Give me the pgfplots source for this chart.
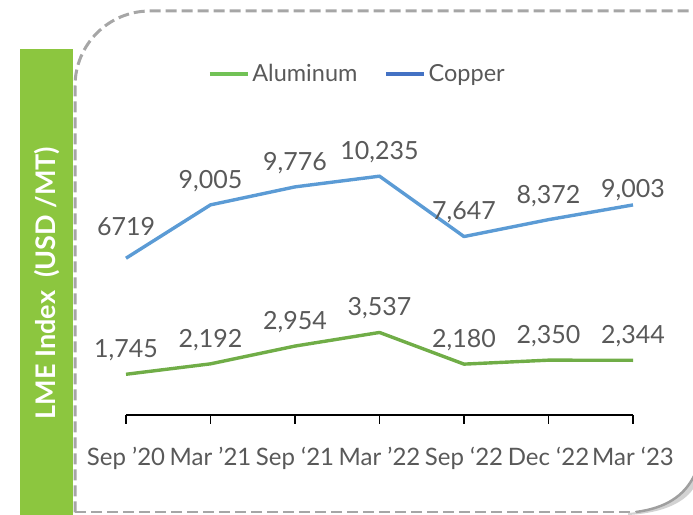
\documentclass[border=0pt]{standalone}
\usepackage{pgfplots}
\pgfplotsset{compat=1.18}
\usepackage{pgfplotstable}
\usepackage{fontspec}
\setmainfont{Lato}
\definecolor{txt}{HTML}{595959}
\definecolor{cu}{HTML}{5B9BD5}
\definecolor{culeg}{HTML}{4472C4}
\definecolor{al}{HTML}{70AD47}
\definecolor{alleg}{HTML}{72C256}
\definecolor{barg}{HTML}{8CC63F}
\definecolor{frame}{HTML}{A6A6A6}

\pgfplotstableread{
x y lab
0 6719 6719
1 9005 9,005
2 9776 9,776
3 10235 10,235
4 7647 7,647
5 8372 8,372
6 9003 9,003
}\copper
\pgfplotstableread{
x y lab
0 1745 1,745
1 2192 2,192
2 2954 2,954
3 3537 3,537
4 2180 2,180
5 2350 2,350
6 2344 2,344
}\alum

\begin{document}
\begin{tikzpicture}[x=1bp,y=1bp]
\useasboundingbox (0,0) rectangle (693,515);
% green side bar
\fill[barg] (20,466) rectangle (72.5,-1);
\node[rotate=90, text=white, font=\bfseries\fontsize{27bp}{30bp}\selectfont] at (47,232) {LME Index\ \ (USD /MT)};
% dashed frame
\draw[frame, line width=3bp, dash pattern=on 11bp off 5bp, rounded corners=75bp] (75,2.5) -- (75,504) -- (720,504);
\draw[frame, line width=2bp, dash pattern=on 11bp off 5bp] (75,2.5) -- (640,2.5);
% page curl shadow
\fill[gray!35] (628,2) .. controls (662,5) and (684,17) .. (695,41) -- (695,29) .. controls (686,13) and (664,2) .. (628,0) -- cycle;
\draw[gray!75, line width=2.5bp] (636,3) .. controls (666,7) and (684,19) .. (694,39);
\begin{axis}[
  at={(126bp,100bp)}, anchor=south west,
  scale only axis, width=507bp, height=280bp,
  xmin=0, xmax=6, ymin=0, ymax=12000,
  axis x line*=bottom, axis y line=none,
  axis line style={black, line width=1.6bp},
  xtick={0,...,6},
  xticklabels={Sep ’20, Mar ’21, Sep ‘21, Mar ’22, Sep ‘22, Dec ‘22, Mar ‘23},
  xtick align=outside, major tick length=9bp,
  tick style={black, line width=1.6bp},
  xticklabel style={text=txt, font=\fontsize{24bp}{27bp}\selectfont, text height=17.5bp, text depth=4bp, inner sep=0pt},
  xticklabel shift=23.5bp,
  clip=false,
  point meta=explicit symbolic,
  nodes near coords,
  nodes near coords style={anchor=center, yshift=24bp, text=txt, font=\fontsize{25bp}{28bp}\selectfont},
  legend style={at={(0.1617,1.218)}, anchor=west, draw=none, fill=none, inner sep=0pt,
    font=\fontsize{23.5bp}{27bp}\selectfont, text=txt,
    nodes={inner sep=3bp}, legend columns=2,
    /tikz/every even column/.append style={column sep=24bp}},
  legend image code/.code={\draw[#1, line width=3.2bp] (0bp,0bp) -- (38bp,0bp);},
]
\addplot[cu, line width=3.4bp, line join=round,
  coordinate style/.condition={x==0}{yshift=8bp},
  coordinate style/.condition={x==6}{yshift=-9bp},
  forget plot] table[x=x, y=y, meta=lab] {\copper};
\addplot[al, line width=3.4bp, line join=round, forget plot] table[x=x, y=y, meta=lab] {\alum};
\addlegendimage{alleg}
\addlegendentry{Aluminum}
\addlegendimage{culeg}
\addlegendentry{Copper}
\end{axis}
\end{tikzpicture}
\end{document}
